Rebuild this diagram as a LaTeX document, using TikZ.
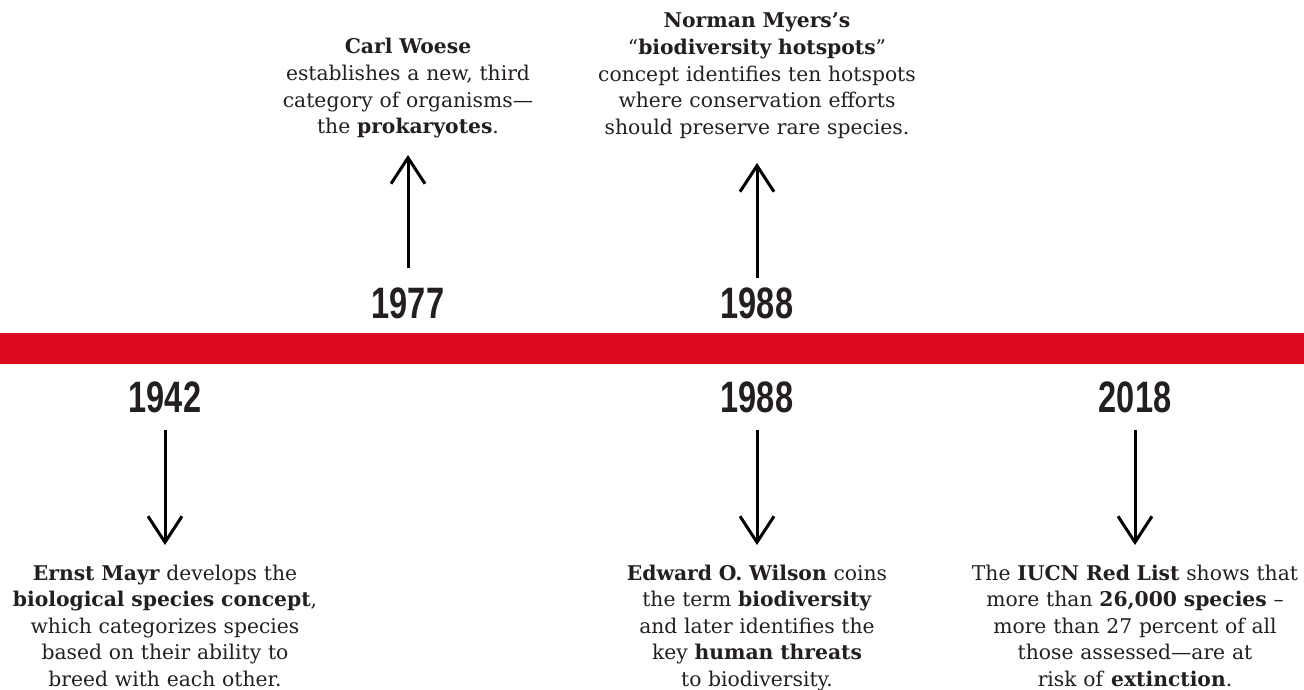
\documentclass[tikz,border=0pt]{standalone}
\usepackage{fontspec}
\usepackage{graphicx}
\setmainfont{DejaVu Serif}
\newfontfamily\yearfont{Liberation Sans}
\usetikzlibrary{arrows.meta}
\definecolor{tlred}{HTML}{DC0A1E}
\definecolor{ink}{HTML}{231F20}
\newcommand\yeartext[1]{\scalebox{0.74}[1]{\yearfont\bfseries\fontsize{44}{44}\selectfont #1}}
\begin{document}
\begin{tikzpicture}[x=1pt,y=-1pt,
  desc/.style={text width=380pt, align=center, inner sep=0pt, anchor=base, text=ink,
    font=\fontsize{20.3}{26.6}\selectfont},
  yearlbl/.style={inner sep=0pt, anchor=base, text=ink},
  arr/.style={draw=black, line width=3pt, -{Straight Barb[length=26pt,width=34pt]}}]
\useasboundingbox (0,0) rectangle (1304,690);
\fill[tlred] (0,333) rectangle (1304,364);

% top events
\node[yearlbl] (y1977) at (408,318) {\yeartext{1977}};
\node[yearlbl] (y1988t) at (757,318) {\yeartext{1988}};
\node[desc] (t1977) at (408,54) {\textbf{Carl Woese}\\ establishes a new, third\\ category of organisms—\\ the \textbf{prokaryotes}.};
\node[desc] (t1988t) at (757,28) {\textbf{Norman Myers’s}\\ “\textbf{biodiversity hotspots}”\\ concept identifies ten hotspots\\ where conservation efforts\\ should preserve rare species.};

% bottom events
\node[yearlbl] (y1942) at (165,412) {\yeartext{1942}};
\node[yearlbl] (y1988b) at (757,412) {\yeartext{1988}};
\node[yearlbl] (y2018) at (1135,412) {\yeartext{2018}};
\node[desc] (t1942) at (165,580) {\textbf{Ernst Mayr} develops the\\ \textbf{biological species concept},\\ which categorizes species\\ based on their ability to\\ breed with each other.};
\node[desc] (t1988b) at (757,580) {\textbf{Edward O. Wilson} coins\\ the term \textbf{biodiversity}\\ and later identifies the\\ key \textbf{human threats}\\ to biodiversity.};
\node[desc] (t2018) at (1135,580) {The \textbf{IUCN Red List} shows that\\ more than \textbf{26,000 species} –\\ more than 27 percent of all\\ those assessed—are at\\ risk of \textbf{extinction}.};

% arrow ends
\coordinate (a1977s) at (408,268); \coordinate (a1977e) at (408,155);
\coordinate (a1988ts) at (757,278); \coordinate (a1988te) at (757,163);
\coordinate (a1942s) at (165,430); \coordinate (a1942e) at (165,545);
\coordinate (a1988bs) at (757,430); \coordinate (a1988be) at (757,545);
\coordinate (a2018s) at (1135,430); \coordinate (a2018e) at (1135,545);
\draw[arr] (a1977s) -- (a1977e);
\draw[arr] (a1988ts) -- (a1988te);
\draw[arr] (a1942s) -- (a1942e);
\draw[arr] (a1988bs) -- (a1988be);
\draw[arr] (a2018s) -- (a2018e);
\end{tikzpicture}
\end{document}
